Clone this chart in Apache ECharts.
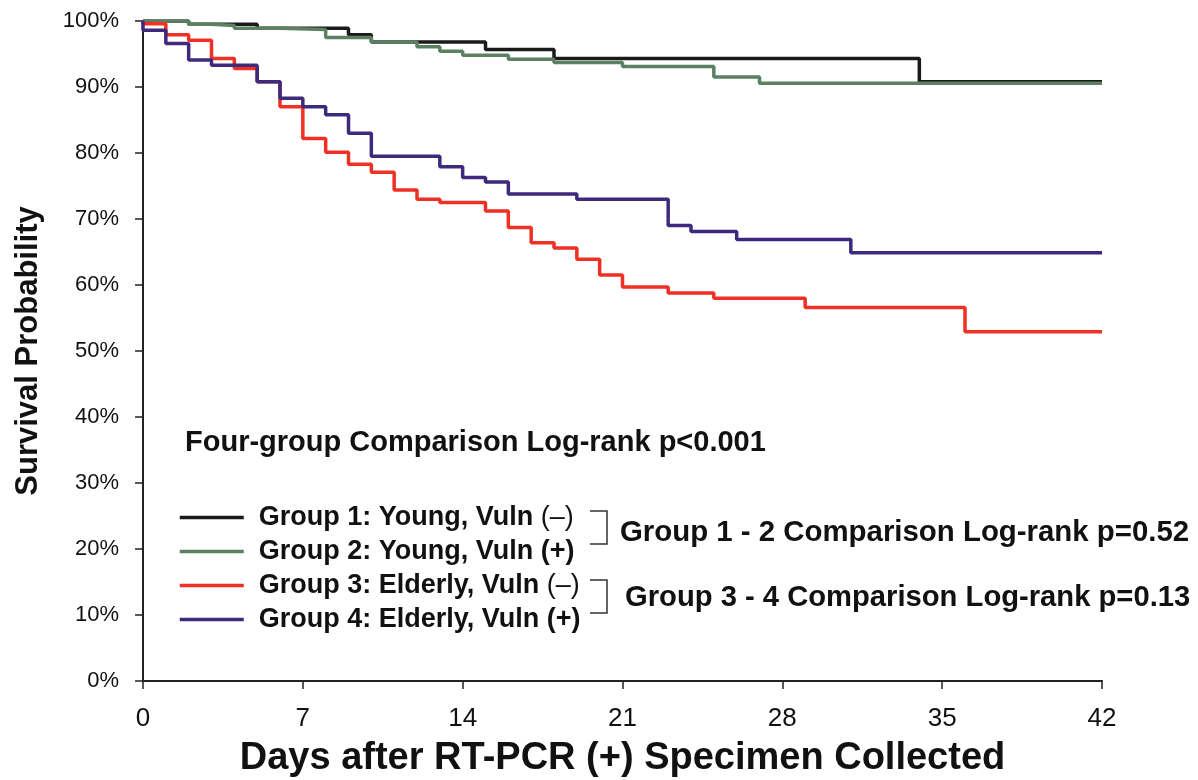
<!DOCTYPE html>
<html>
<head>
<meta charset="utf-8">
<title>Survival by group</title>
<script src="https://cdn.jsdelivr.net/npm/echarts@6/dist/echarts.min.js"></script>
<style>
  html, body { margin: 0; padding: 0; background: #fff; }
  #km_chart { width: 1198px; height: 780px; }
</style>
</head>
<body>
<div id="km_chart"></div>
<script>
//*************DATA****************************************
var groupNames = ['Group 1: Young, Vuln (–)', 'Group 2: Young, Vuln (+)', 'Group 3: Elderly, Vuln (–)', 'Group 4: Elderly, Vuln (+)'];
var groupColors = ['#1a1a1a', '#5b8062', '#ee3124', '#3d2a7d'];

var dayTicks = [0, 7, 14, 21, 28, 35, 42];

var g1Days = [0, 2, 5, 9, 10, 15, 18, 34, 42];
var g1Surv = [100, 99.5, 98.9, 97.9, 96.8, 95.7, 94.3, 90.8, 90.8];

var g2Days = [0, 2, 3, 4, 6, 8, 10, 12, 13, 14, 16, 18, 21, 25, 27, 42];
var g2Surv = [100, 99.5, 99.3, 98.9, 98.7, 97.5, 96.8, 96.1, 95.4, 94.8, 94.2, 93.7, 93.1, 91.5, 90.55, 90.55];

var g3Days = [0, 0, 1, 2, 3, 4, 5, 6, 7, 8, 9, 10, 11, 12, 13, 15, 16, 17, 18, 19, 20, 21, 23, 25, 29, 36, 42];
var g3Surv = [100, 99.6, 97.9, 97.1, 94.3, 92.8, 90.8, 87.0, 82.2, 80.1, 78.3, 77.1, 74.4, 73.0, 72.5, 71.2, 68.7, 66.4, 65.6, 63.9, 61.5, 59.7, 58.8, 58.0, 56.6, 52.9, 52.9];

var g4Days = [0, 0, 1, 2, 3, 5, 6, 7, 8, 9, 10, 13, 14, 15, 16, 19, 23, 24, 26, 31, 42];
var g4Surv = [100, 98.6, 96.6, 94.1, 93.3, 90.8, 88.3, 87.0, 85.8, 83.0, 79.5, 77.9, 76.3, 75.6, 73.8, 73.0, 69.0, 68.1, 66.9, 64.9, 64.9];

var overallText = 'Four-group Comparison Log-rank p<0.001';
var pairText = ['Group 1 - 2 Comparison Log-rank p=0.52', 'Group 3 - 4 Comparison Log-rank p=0.13'];

var sansFont = '"Liberation Sans", Arial, sans-serif';

function toPairs(days, surv) {
  return days.map(function (d, i) { return [d, surv[i]]; });
}

var allDays = [g1Days, g2Days, g3Days, g4Days];
var allSurv = [g1Surv, g2Surv, g3Surv, g4Surv];

var kmSeries = groupNames.map(function (nm, i) {
  return {
    name: nm,
    type: 'line',
    step: 'end',
    showSymbol: false,
    symbol: 'none',
    data: toPairs(allDays[i], allSurv[i]),
    lineStyle: { color: groupColors[i], width: 3.5 },
    itemStyle: { color: groupColors[i] },
    emphasis: { disabled: true }
  };
});

//*************CHART******************
var kmChart = echarts.init(document.getElementById('km_chart'));

var option = {
  animation: false,
  backgroundColor: '#fff',
  grid: { left: 143, right: 96, top: 21, bottom: 99, outerBoundsMode: 'none', containLabel: false },
  xAxis: {
    type: 'value',
    min: dayTicks[0],
    max: dayTicks[dayTicks.length - 1],
    interval: 7,
    name: 'Days after RT-PCR (+) Specimen Collected',
    nameLocation: 'middle',
    nameGap: 59,
    nameTextStyle: { fontFamily: sansFont, fontWeight: 'bold', fontSize: 38, color: '#111' },
    axisLine: { onZero: false, lineStyle: { color: '#222', width: 2 } },
    axisTick: { inside: false, length: 8, lineStyle: { color: '#222', width: 1.5 } },
    axisLabel: { margin: 25, fontFamily: sansFont, fontSize: 26, color: '#111' },
    splitLine: { show: false }
  },
  yAxis: {
    type: 'value',
    min: 0,
    max: 100,
    interval: 10,
    name: 'Survival Probability',
    nameLocation: 'middle',
    nameRotate: 90,
    nameGap: 99,
    nameTextStyle: { fontFamily: sansFont, fontWeight: 'bold', fontSize: 31, color: '#111' },
    axisLine: { show: true, lineStyle: { color: '#222', width: 2 } },
    axisTick: { show: true, length: 8, lineStyle: { color: '#222', width: 1.5 } },
    axisLabel: { margin: 24, formatter: '{value}%', fontFamily: sansFont, fontSize: 22, color: '#111' },
    splitLine: { show: false }
  },
  legend: {
    data: groupNames,
    orient: 'vertical',
    left: 178,
    top: 504,
    padding: 0,
    itemWidth: 64,
    itemHeight: 14,
    itemGap: 7,
    itemStyle: { opacity: 0 },
    lineStyle: { width: 3.5 },
    textStyle: {
      color: '#111',
      rich: {
        g: { width: 10 },
        b: { fontFamily: sansFont, fontWeight: 'bold', fontSize: 27, color: '#111' },
        n: { fontFamily: sansFont, fontWeight: 'normal', fontSize: 27, color: '#111' }
      }
    },
    formatter: function (nm) {
      if (nm.indexOf('(–)') > -1) {
        return '{g| }{b|' + nm.replace(' (–)', ' ') + '}{n|(–)}';
      }
      return '{g| }{b|' + nm + '}';
    },
    selectedMode: false
  },
  graphic: [
    {
      type: 'text', left: 185, top: 428,
      style: { text: overallText, font: 'bold 29px ' + sansFont, fill: '#111' }
    },
    {
      type: 'text', left: 620, top: 518,
      style: { text: pairText[0], font: 'bold 29.4px ' + sansFont, fill: '#111' }
    },
    {
      type: 'text', left: 625, top: 583,
      style: { text: pairText[1], font: 'bold 29.2px ' + sansFont, fill: '#111' }
    },
    {
      type: 'polyline',
      shape: { points: [[590, 511], [607, 511], [607, 544], [590, 544]] },
      style: { stroke: '#333', lineWidth: 1.5, fill: null }
    },
    {
      type: 'polyline',
      shape: { points: [[590, 580], [607, 580], [607, 613], [590, 613]] },
      style: { stroke: '#333', lineWidth: 1.5, fill: null }
    }
  ],
  series: kmSeries
};

kmChart.setOption(option);
</script>
</body>
</html>
